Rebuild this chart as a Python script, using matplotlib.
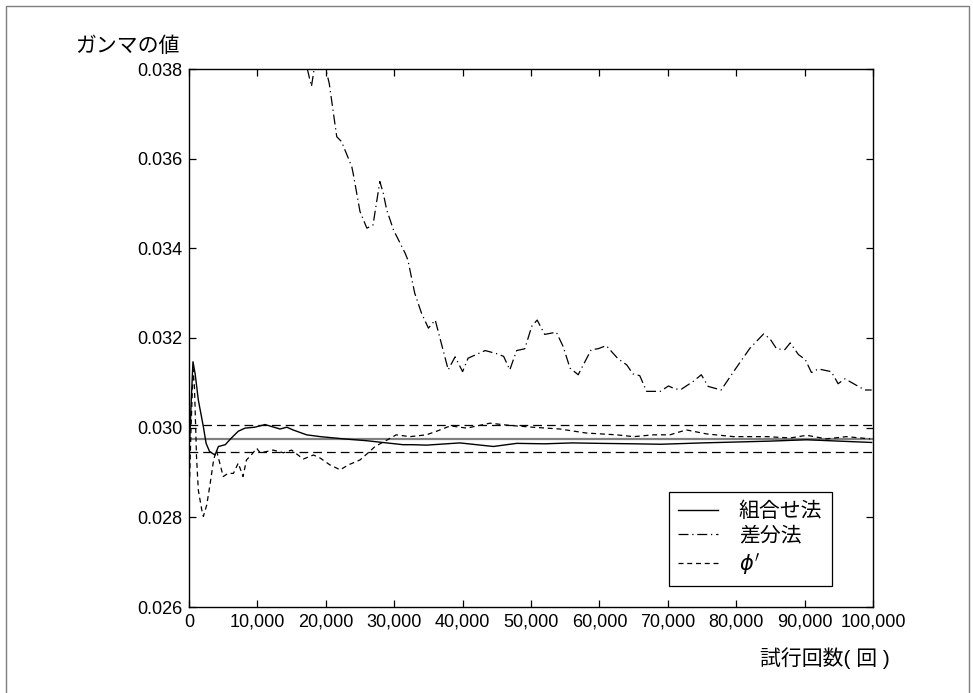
import matplotlib
matplotlib.use("Agg")
import matplotlib.pyplot as plt
from matplotlib.patches import Rectangle

plt.rcParams['font.family'] = ['Liberation Sans', 'Noto Sans CJK JP', 'DejaVu Sans']
plt.rcParams['mathtext.fontset'] = 'dejavusans'

# ---- data ----
x_comb = [100, 300, 580, 900, 1360, 2100, 2500, 3000, 3800, 4300, 5300, 6200, 7200, 8200, 9600,
          10900, 11100, 13300, 14300, 15200, 17200, 19200, 22600, 25900, 28900, 31300, 32800,
          34700, 39600, 44500, 47900, 52000, 56000, 60000, 65000, 69000, 75000, 80000, 85000,
          90300, 95000, 99800]
y_comb = [0.0297, 0.0305, 0.03147, 0.0312, 0.03062, 0.03002, 0.02965, 0.02947, 0.02939, 0.02958,
          0.02962, 0.02977, 0.02992, 0.02999, 0.03001, 0.03006, 0.03007, 0.02997, 0.03001, 0.02995,
          0.02984, 0.02980, 0.02975, 0.02971, 0.02966, 0.02962, 0.02962, 0.02961, 0.02966, 0.02958,
          0.02965, 0.02964, 0.02966, 0.02965, 0.02964, 0.02963, 0.02966, 0.02968, 0.02970,
          0.02973, 0.02970, 0.02967]

x_diff = [1000, 3000, 6000, 9000, 12000, 15000, 17300, 17900, 18300, 20000, 20500, 21600, 22300,
          23800, 24000, 25000, 26000, 26900, 27900, 28400, 28900, 29900, 31600, 32000, 33000,
          34000, 35000, 36000, 37900, 38900, 40000, 40800, 43300, 45000, 46000, 46900, 47900,
          49100, 50100, 50900, 52000, 53700, 54700, 55700, 56900, 58800, 59800, 61000, 62700,
          64000, 64900, 65900, 66900, 68900, 70100, 71100, 72000, 73700, 74900, 75900, 77800,
          79800, 82000, 84000, 84900, 85900, 87100, 87900, 89100, 90100, 91000, 92000, 93900,
          94900, 95900, 97400, 98800, 99800]
y_diff = [0.0500, 0.0460, 0.0435, 0.0415, 0.0400, 0.0390, 0.03800, 0.03761, 0.03800, 0.03800,
          0.03768, 0.03649, 0.03638, 0.03582, 0.03567, 0.03482, 0.03445, 0.03452, 0.03549,
          0.03523, 0.03486, 0.03441, 0.03389, 0.03374, 0.03300, 0.03255, 0.03222, 0.03240,
          0.03129, 0.03158, 0.03125, 0.03155, 0.03172, 0.03165, 0.03159, 0.03129, 0.03172,
          0.03176, 0.03226, 0.03240, 0.03208, 0.03213, 0.03181, 0.03133, 0.03118, 0.03174,
          0.03176, 0.03183, 0.03154, 0.03140, 0.03120, 0.03116, 0.03081, 0.03081, 0.03093,
          0.03086, 0.03086, 0.03103, 0.03118, 0.03092, 0.03084, 0.03129, 0.03177, 0.03209,
          0.03199, 0.03176, 0.03174, 0.03189, 0.03163, 0.03152, 0.03123, 0.03131, 0.03125,
          0.03098, 0.03109, 0.03096, 0.03084, 0.03084]

x_phi = [100, 300, 600, 800, 1100, 1360, 1860, 2100, 2600, 3100, 3600, 4000, 4500, 5000, 5700,
         6500, 7200, 7900, 8400, 9100, 9900, 10400, 11100, 12300, 13800, 15000, 16700, 18200,
         19200, 20600, 22100, 23300, 25000, 26200, 27200, 28900, 30300, 32300, 34700, 36200,
         38200, 40600, 44000, 46900, 50300, 54200, 58100, 62500, 65000, 67900, 70300, 72700,
         75700, 79600, 84500, 87900, 90300, 93200, 96100, 99600]
y_phi = [0.0289, 0.0300, 0.0313, 0.0309, 0.02935, 0.02861, 0.02817, 0.02802, 0.02828, 0.02876,
         0.02928, 0.02950, 0.02921, 0.02891, 0.02898, 0.02898, 0.02921, 0.02891, 0.02928, 0.02939,
         0.02954, 0.02944, 0.02946, 0.02950, 0.02944, 0.02950, 0.02930, 0.02939, 0.02932, 0.02917,
         0.02906, 0.02917, 0.02928, 0.02944, 0.02958, 0.02972, 0.02984, 0.02980, 0.02984, 0.02992,
         0.03004, 0.02999, 0.03010, 0.03005, 0.03001, 0.02997, 0.02988, 0.02984, 0.02980, 0.02984,
         0.02984, 0.02995, 0.02986, 0.02980, 0.02980, 0.02977, 0.02983, 0.02975, 0.02980, 0.02975]

ref_center = 0.02975
ref_band = [0.02945, 0.03005]

x_ticks = [0, 10000, 20000, 30000, 40000, 50000, 60000, 70000, 80000, 90000, 100000]
x_tick_labels = ['0', '10,000', '20,000', '30,000', '40,000', '50,000', '60,000', '70,000',
                 '80,000', '90,000', '100,000']
y_ticks = [0.026, 0.028, 0.030, 0.032, 0.034, 0.036, 0.038]
y_tick_labels = ['0.026', '0.028', '0.030', '0.032', '0.034', '0.036', '0.038']

labels = ['組合せ法', '差分法', r"$\phi'$"]

# ---- figure ----
fig = plt.figure(figsize=(9.73, 6.93), dpi=100)
fig.patches.append(Rectangle((6 / 973, -0.05), 963 / 973, 1.05 - 6 / 693, transform=fig.transFigure,
                             fill=False, edgecolor='#7f7f7f', linewidth=1.0, zorder=0))
ax = fig.add_axes([189 / 973, 1 - 607 / 693, 684 / 973, 538 / 693])

ax.axhline(ref_center, color='#808080', linewidth=1.6, zorder=1)
for v in ref_band:
    ax.axhline(v, color='black', linewidth=0.9, linestyle=(0, (7, 4)), zorder=1)

l1, = ax.plot(x_comb, y_comb, color='black', linewidth=1.0, label=labels[0], zorder=3)
l2, = ax.plot(x_diff, y_diff, color='black', linewidth=0.9, linestyle=(0, (8, 3, 1, 3)),
              label=labels[1], zorder=3)
l3, = ax.plot(x_phi, y_phi, color='black', linewidth=0.9, linestyle=(0, (4, 3)),
              label=labels[2], zorder=3)

ax.set_xlim(0, 100000)
ax.set_ylim(0.026, 0.038)
ax.set_xticks(x_ticks)
ax.set_xticklabels(x_tick_labels)
ax.set_yticks(y_ticks)
ax.set_yticklabels(y_tick_labels)
ax.tick_params(direction='in', length=5, width=0.9, top=True, right=True, labelsize=13,
               colors='black', pad=5)
for s in ax.spines.values():
    s.set_linewidth(1.0)
    s.set_color('black')

fig.text(180 / 973, 1 - 46 / 693, 'ガンマの値', fontsize=15, ha='right', va='center')
fig.text(890 / 973, 1 - 658 / 693, '試行回数( 回 )', fontsize=15, ha='right', va='center')

leg = ax.legend(handles=[l1, l2, l3], loc='lower left', bbox_to_anchor=(0.7018, 0.039),
                borderaxespad=0, fontsize=15, frameon=True, fancybox=False,
                edgecolor='black', framealpha=1, handlelength=1.9, handletextpad=1.0,
                labelspacing=0.25, borderpad=0.45)
leg.get_frame().set_linewidth(0.9)

fig.savefig('out.png', dpi=100)
